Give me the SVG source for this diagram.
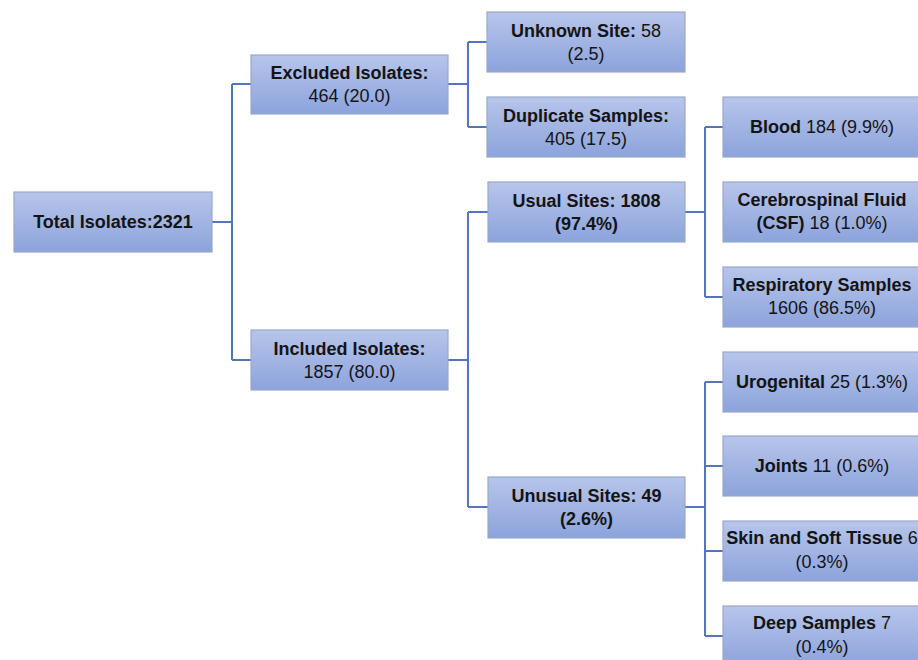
<svg xmlns="http://www.w3.org/2000/svg" width="918" height="660" viewBox="0 0 918 660">
<defs>
<linearGradient id="g" x1="0" y1="0" x2="0" y2="1">
<stop offset="0" stop-color="#b7c5ea"/>
<stop offset="1" stop-color="#8ca3dc"/>
</linearGradient>
<style>
.box{fill:url(#g);stroke:#9aa8c8;stroke-width:1.2}
.t{font-family:"Liberation Sans",Arial,sans-serif;font-size:18px;fill:#141414;text-anchor:middle}
.b{font-weight:bold}
.c{fill:none;stroke:#5275bb;stroke-width:2}
</style>
</defs>
<rect width="918" height="660" fill="#fff"/>
<g id="connectors" class="c">
<path d="M212 222H232M232 84V360M232 84H251M232 360H251"/>
<path d="M448 84H468M468 42V127M468 42H487M468 127H487"/>
<path d="M448 360H468M468 212V507M468 212H488M468 507H488"/>
<path d="M685 212H705M705 127V297M705 127H723M705 297H723"/>
<path d="M685 507H705M705 382V636M705 382H723M705 466H723M705 551H723M705 636H723"/>
</g>
<g id="total"><rect class="box" x="14" y="192" width="198" height="60"/><text class="t b" x="113" y="228">Total Isolates:2321</text></g>
<g id="excluded"><rect class="box" x="251" y="55" width="197" height="59"/><text class="t" x="349.5" y="79"><tspan class="b">Excluded Isolates:</tspan></text><text class="t" x="349.5" y="102">464 (20.0)</text></g>
<g id="included"><rect class="box" x="251" y="330" width="197" height="60"/><text class="t" x="349.5" y="355"><tspan class="b">Included Isolates:</tspan></text><text class="t" x="349.5" y="378">1857 (80.0)</text></g>
<g id="unknown"><rect class="box" x="487" y="12" width="198" height="60"/><text class="t" x="586" y="37"><tspan class="b">Unknown Site:</tspan> 58</text><text class="t" x="586" y="60">(2.5)</text></g>
<g id="duplicate"><rect class="box" x="487" y="97" width="198" height="60"/><text class="t" x="586" y="122"><tspan class="b">Duplicate Samples:</tspan></text><text class="t" x="586" y="145">405 (17.5)</text></g>
<g id="usual"><rect class="box" x="488" y="182" width="197" height="60"/><text class="t b" x="586.5" y="207">Usual Sites: 1808</text><text class="t b" x="586.5" y="230">(97.4%)</text></g>
<g id="unusual"><rect class="box" x="488" y="477" width="197" height="61"/><text class="t b" x="586.5" y="502">Unusual Sites: 49</text><text class="t b" x="586.5" y="525">(2.6%)</text></g>
<g id="blood"><rect class="box" x="723" y="97" width="198" height="60"/><text class="t" x="822" y="133"><tspan class="b">Blood</tspan> 184 (9.9%)</text></g>
<g id="csf"><rect class="box" x="723" y="182" width="198" height="60"/><text class="t b" x="822" y="206">Cerebrospinal Fluid</text><text class="t" x="822" y="229"><tspan class="b">(CSF)</tspan> 18 (1.0%)</text></g>
<g id="respiratory"><rect class="box" x="723" y="267" width="198" height="60"/><text class="t b" x="822" y="291">Respiratory Samples</text><text class="t" x="822" y="314">1606 (86.5%)</text></g>
<g id="urogenital"><rect class="box" x="723" y="352" width="198" height="60"/><text class="t" x="822" y="388"><tspan class="b">Urogenital</tspan> 25 (1.3%)</text></g>
<g id="joints"><rect class="box" x="723" y="436" width="198" height="60"/><text class="t" x="822" y="472"><tspan class="b">Joints</tspan> 11 (0.6%)</text></g>
<g id="skin"><rect class="box" x="723" y="521" width="198" height="60"/><text class="t" x="822" y="544"><tspan class="b">Skin and Soft Tissue</tspan> 6</text><text class="t" x="822" y="568">(0.3%)</text></g>
<g id="deep"><rect class="box" x="723" y="606" width="198" height="60"/><text class="t" x="822" y="629"><tspan class="b">Deep Samples</tspan> 7</text><text class="t" x="822" y="653">(0.4%)</text></g>
</svg>
